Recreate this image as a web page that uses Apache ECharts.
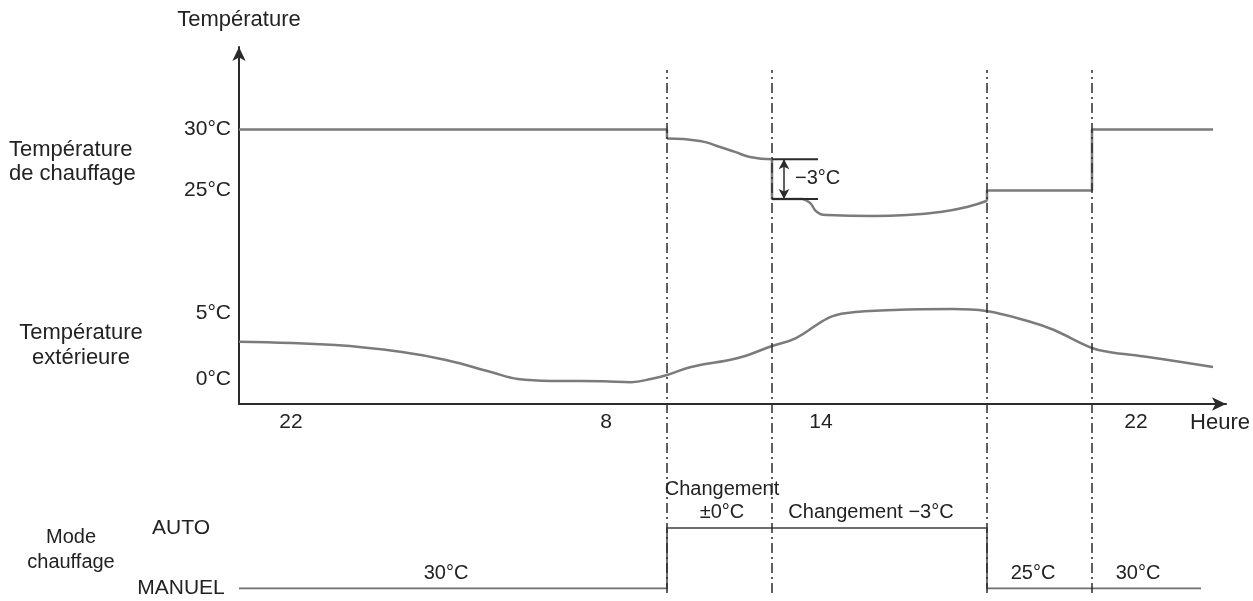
<!DOCTYPE html>
<html><head><meta charset="utf-8">
<script src="https://cdn.jsdelivr.net/npm/echarts@6/dist/echarts.min.js"></script>
<style>html,body{margin:0;padding:0;background:#fff}#chart{width:1253px;height:601px}</style>
</head><body><div id="chart"></div>
<script>
// x values: position along the (schematic) time axis
const xTickPos = [52, 367, 582, 897];
const xTickText = ['22', '8', '14', '22'];
const changeTimes = [428, 533, 748, 853];

const heatingTicks = [25, 30];
const outdoorTicks = [0, 5];

// Température de chauffage (°C)
const heatingFlat1 = [[0, 30], [428, 30], [428, 29.26]];
const heatingDrift1 = [[428, 29.26], [461, 29.06], [478, 28.65], [496, 28.16], [511, 27.75], [533, 27.55]];
const heatingDrop = [[533, 27.55], [533, 24.3], [564, 24.3]];
const heatingDrift2 = [[564, 24.3], [571, 23.98], [578, 23.24], [588, 22.99], [634, 22.91], [668, 22.99], [701, 23.24], [728, 23.65], [748, 24.16]];
const heatingFlat2 = [[748, 24.16], [748, 25], [853, 25], [853, 30], [974, 30]];

// Température extérieure (°C)
const outdoorX = [0, 96, 163, 207, 252, 279, 319, 364, 392, 413, 428, 452, 499, 533, 557, 589, 608, 655, 714, 747, 792, 815, 853, 870, 909, 974];
const outdoorT = [2.83, 2.58, 2.05, 1.44, 0.53, 0.0, -0.15, -0.17, -0.24, 0.02, 0.3, 0.91, 1.59, 2.5, 3.1, 4.62, 5.0, 5.23, 5.3, 5.15, 4.32, 3.71, 2.35, 2.05, 1.67, 0.91];

// −3°C bracket
const deltaX = [533, 579];
const deltaHigh = 27.55;
const deltaLow = 24.3;
const deltaArrowX = 545;
const deltaLabel = [556, 26.0, '−3°C'];

// Mode chauffage
const modeLevels = ['MANUEL', 'AUTO'];
const modeX = [0, 428, 748, 962];
const modeState = ['MANUEL', 'AUTO', 'MANUEL', 'MANUEL'];
const noteX = [207, 483, 632, 794, 899];
const noteLevel = ['MANUEL', 'AUTO', 'AUTO', 'MANUEL', 'MANUEL'];
const noteText = ['30°C', 'Changement\n±0°C', 'Changement −3°C', '25°C', '30°C'];

const FONT = 'Liberation Sans, Arial, sans-serif';
const TXT = '#222222';
const CURVE = '#7b7b7b';
const AXIS = '#2b2b2b';

const chart = echarts.init(document.getElementById('chart'), null, {renderer: 'canvas'});

function curve(data, smooth) {
  return {type: 'line', xAxisIndex: 0, yAxisIndex: 0, data: data, smooth: smooth, symbol: 'none',
    lineStyle: {color: CURVE, width: 2.5}, silent: true, z: 3};
}

const option = {
  animation: false,
  textStyle: {fontFamily: FONT},
  grid: [
    {left: 239, width: 987, top: 47, bottom: 197},
    {left: 239, width: 987, top: 528, height: 60.5},
    {left: 239, width: 987, top: 70, bottom: 8}
  ],
  xAxis: [
    {gridIndex: 0, type: 'value', min: 0, max: 987,
      axisLine: {show: true, onZero: false, symbol: ['none', 'arrow'], symbolSize: [10, 14], lineStyle: {color: AXIS, width: 2}},
      axisTick: {show: false}, splitLine: {show: false},
      axisLabel: {customValues: xTickPos, formatter: function (v) { const i = xTickPos.indexOf(v); return i >= 0 ? xTickText[i] : ''; },
        color: TXT, fontSize: 21, margin: 8, fontFamily: FONT},
      name: 'Heure', nameLocation: 'end', nameGap: -6,
      nameTextStyle: {color: TXT, fontSize: 22, fontFamily: FONT, align: 'center', verticalAlign: 'top', padding: [8, 0, 0, 0]}
    },
    {gridIndex: 1, type: 'value', min: 0, max: 987, show: false},
    {gridIndex: 2, type: 'value', min: 0, max: 987, show: false}
  ],
  yAxis: [
    {gridIndex: 0, type: 'value', min: 7.5, max: 36.76,
      axisLine: {show: true, symbol: ['none', 'arrow'], symbolSize: [10, 14], lineStyle: {color: AXIS, width: 2}},
      axisTick: {show: false}, splitLine: {show: false},
      axisLabel: {customValues: heatingTicks, formatter: function (v) { return v + '°C'; }, color: TXT, fontSize: 21, margin: 8, fontFamily: FONT},
      name: 'Température', nameLocation: 'end', nameGap: 16,
      nameTextStyle: {color: TXT, fontSize: 22, fontFamily: FONT, align: 'center'}
    },
    {gridIndex: 0, type: 'value', min: -1.894, max: 25.15, position: 'left',
      axisLine: {show: false}, axisTick: {show: false}, splitLine: {show: false},
      axisLabel: {customValues: outdoorTicks, formatter: function (v) { return v + '°C'; }, color: TXT, fontSize: 21, margin: 8, fontFamily: FONT}
    },
    {gridIndex: 1, type: 'category', data: modeLevels, boundaryGap: false,
      axisLine: {show: false}, axisTick: {show: false}, splitLine: {show: false},
      axisLabel: {color: TXT, fontSize: 21, margin: 58, align: 'center', fontFamily: FONT}
    },
    {gridIndex: 2, type: 'value', min: 0, max: 1, show: false}
  ],
  graphic: [
    {type: 'text', silent: true, style: {x: 9, y: 161.5, text: 'Température\nde chauffage', font: '22px ' + FONT, fill: TXT,
      lineHeight: 24, textAlign: 'left', textVerticalAlign: 'middle'}},
    {type: 'text', silent: true, style: {x: 81, y: 345.5, text: 'Température\nextérieure', font: '22px ' + FONT, fill: TXT,
      lineHeight: 25, textAlign: 'center', textVerticalAlign: 'middle'}},
    {type: 'text', silent: true, style: {x: 71, y: 549.5, text: 'Mode\nchauffage', font: '20px ' + FONT, fill: TXT,
      lineHeight: 25, textAlign: 'center', textVerticalAlign: 'middle'}}
  ],
  series: [
    curve(heatingFlat1, false),
    curve(heatingDrift1, 0.5),
    curve(heatingDrop, false),
    curve(heatingDrift2, 0.5),
    curve(heatingFlat2, false),
    {type: 'line', name: 'Température extérieure', xAxisIndex: 0, yAxisIndex: 1,
      data: outdoorX.map(function (x, i) { return [x, outdoorT[i]]; }),
      smooth: 0.4, symbol: 'none', lineStyle: {color: CURVE, width: 2.5}, silent: true, z: 3},
    {type: 'line', xAxisIndex: 0, yAxisIndex: 0, data: [[deltaX[0], deltaHigh], [deltaX[1], deltaHigh]],
      symbol: 'none', lineStyle: {color: AXIS, width: 2}, silent: true, z: 4,
      markLine: {silent: true, symbol: ['arrow', 'arrow'], symbolSize: [8, 10], label: {show: false},
        lineStyle: {color: AXIS, width: 1.5, type: 'solid'},
        data: [[{coord: [deltaArrowX, deltaHigh]}, {coord: [deltaArrowX, deltaLow]}]]}},
    {type: 'line', xAxisIndex: 0, yAxisIndex: 0, data: [[deltaX[0], deltaLow], [deltaX[1], deltaLow]],
      symbol: 'none', lineStyle: {color: AXIS, width: 2}, silent: true, z: 4},
    {type: 'scatter', xAxisIndex: 0, yAxisIndex: 0, data: [[deltaLabel[0], deltaLabel[1]]], symbolSize: 0, silent: true,
      itemStyle: {opacity: 1},
      label: {show: true, position: 'right', distance: 0, formatter: deltaLabel[2], color: TXT, fontSize: 20, fontFamily: FONT}},
    {type: 'line', xAxisIndex: 1, yAxisIndex: 2, step: 'start', clip: false,
      data: modeX.map(function (x, i) { return [x, modeState[i]]; }),
      symbol: 'none', lineStyle: {color: '#6f6f6f', width: 2}, silent: true},
    {type: 'scatter', xAxisIndex: 1, yAxisIndex: 2, symbolSize: 0, silent: true, clip: false,
      itemStyle: {opacity: 1},
      data: noteX.map(function (x, i) { return {value: [x, noteLevel[i]], label: {formatter: noteText[i]}}; }),
      label: {show: true, position: 'top', distance: 4, color: TXT, fontSize: 20, lineHeight: 23, align: 'center', fontFamily: FONT}},
    {type: 'line', xAxisIndex: 2, yAxisIndex: 3, data: [], silent: true,
      markLine: {silent: true, symbol: ['none', 'none'], label: {show: false},
        lineStyle: {color: AXIS, width: 1.5, type: [10, 4, 2, 4]},
        data: changeTimes.map(function (x) { return {xAxis: x}; })}}
  ]
};
chart.setOption(option);
</script>
</body></html>
